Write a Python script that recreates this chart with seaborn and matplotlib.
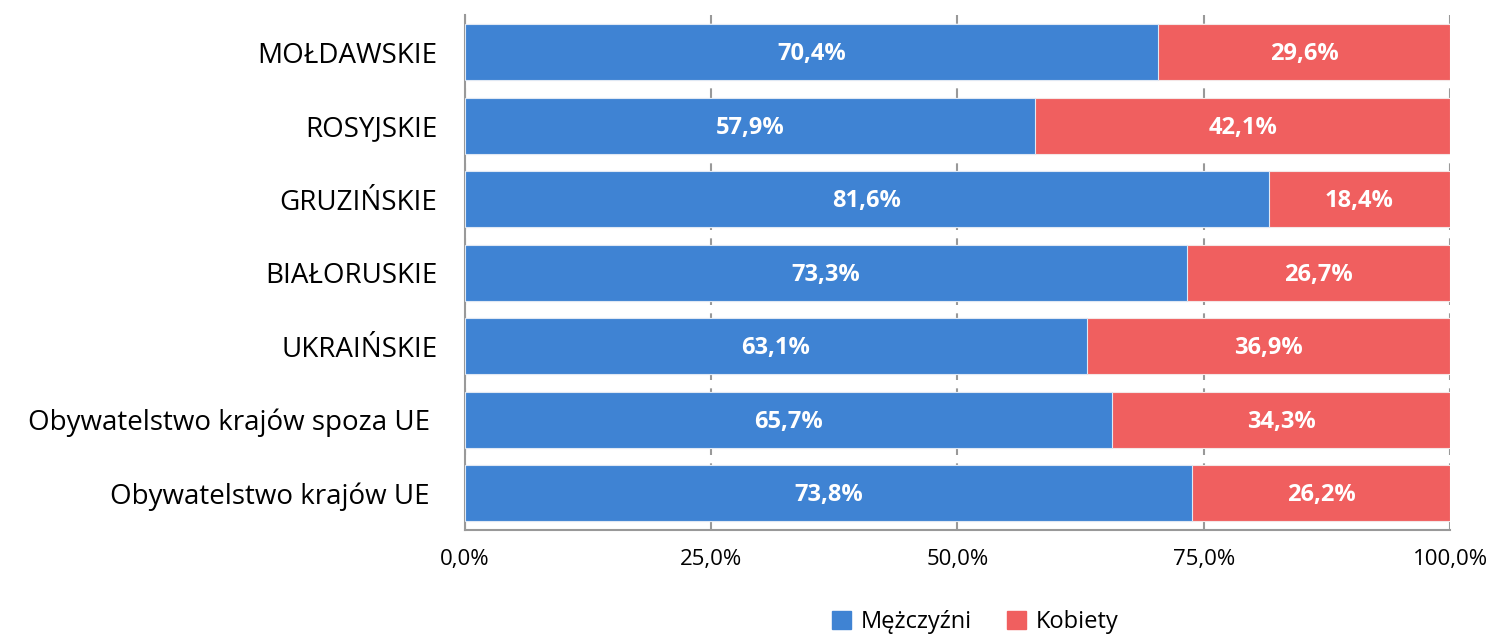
import matplotlib
matplotlib.use("Agg")
import matplotlib.pyplot as plt
import seaborn as sns
import pandas as pd
import numpy as np
from matplotlib.patches import Patch

kategorie = ["MOŁDAWSKIE", "ROSYJSKIE", "GRUZIŃSKIE", "BIAŁORUSKIE", "UKRAIŃSKIE",
             "Obywatelstwo krajów spoza UE ", "Obywatelstwo krajów UE "]
mezczyzni = [70.4, 57.9, 81.6, 73.3, 63.1, 65.7, 73.8]
kobiety = [29.6, 42.1, 18.4, 26.7, 36.9, 34.3, 26.2]
x_ticks = [0, 25, 50, 75, 100]

kolor_m = "#3f83d3"
kolor_k = "#f05f5f"

sns.set_style("white")
plt.rcParams["font.family"] = ["Open Sans", "DejaVu Sans"]
plt.rcParams["text.color"] = "black"
plt.rcParams["xtick.labelcolor"] = "black"
plt.rcParams["ytick.labelcolor"] = "black"

df = pd.DataFrame({"kat": kategorie, "m": mezczyzni, "k": kobiety})
df["suma"] = df["m"] + df["k"]

fig = plt.figure(figsize=(15.12, 6.36), dpi=100)
ax = fig.add_axes([0.3075, 0.1667, 0.6515, 0.8093])

# czerwony pasek na cala dlugosc, niebieski na wierzchu
sns.barplot(data=df, y="kat", x="suma", color=kolor_k, width=0.76, ax=ax,
            edgecolor="#f4e6e6", linewidth=0.8, saturation=1, zorder=2)
sns.barplot(data=df, y="kat", x="m", color=kolor_m, width=0.76, ax=ax,
            edgecolor="#dfe8f4", linewidth=0.8, saturation=1, zorder=3)

for i, (m, k) in enumerate(zip(mezczyzni, kobiety)):
    ax.text(m / 2, i + 0.03, f"{m:.1f}%".replace(".", ","), ha="center", va="center",
            color="white", fontsize=17, fontweight="bold", zorder=5)
    ax.text(m + k / 2, i + 0.03, f"{k:.1f}%".replace(".", ","), ha="center", va="center",
            color="white", fontsize=17, fontweight="bold", zorder=5)

ax.set_xlim(0, 100)
ax.set_ylim(len(kategorie) - 0.5, -0.5)
ax.set_xticks(x_ticks)
ax.set_xticklabels([f"{t:.1f}%".replace(".", ",") for t in x_ticks], fontsize=16)
ax.set_xlabel("")
ax.set_ylabel("")

ax.set_yticks(range(len(kategorie)))
ax.set_yticklabels(kategorie, fontsize=20)
ax.set_yticks(np.arange(-0.5, len(kategorie), 1), minor=True)
ax.tick_params(axis="y", which="major", length=0, pad=20)
ax.tick_params(axis="y", which="minor", length=8, width=1.5, color="#999999")
ax.tick_params(axis="x", which="major", length=8, width=1.5, color="#999999",
               pad=10, direction="inout")

ax.xaxis.grid(True, color="#999999", linestyle=(0, (5, 4)), linewidth=1.5, zorder=0)
ax.set_axisbelow(True)

for s in ["top", "right"]:
    ax.spines[s].set_visible(False)
for s in ["left", "bottom"]:
    ax.spines[s].set_color("#999999")
    ax.spines[s].set_linewidth(1.5)

uchwyty = [Patch(color=kolor_m, label="Mężczyźni"), Patch(color=kolor_k, label="Kobiety")]
fig.legend(handles=uchwyty, loc="center", bbox_to_anchor=(0.645, 0.022), ncol=2,
           frameon=False, fontsize=17, handlelength=0.8, handleheight=0.8,
           handletextpad=0.4, columnspacing=1.5)

fig.savefig("out.png", dpi=100)
